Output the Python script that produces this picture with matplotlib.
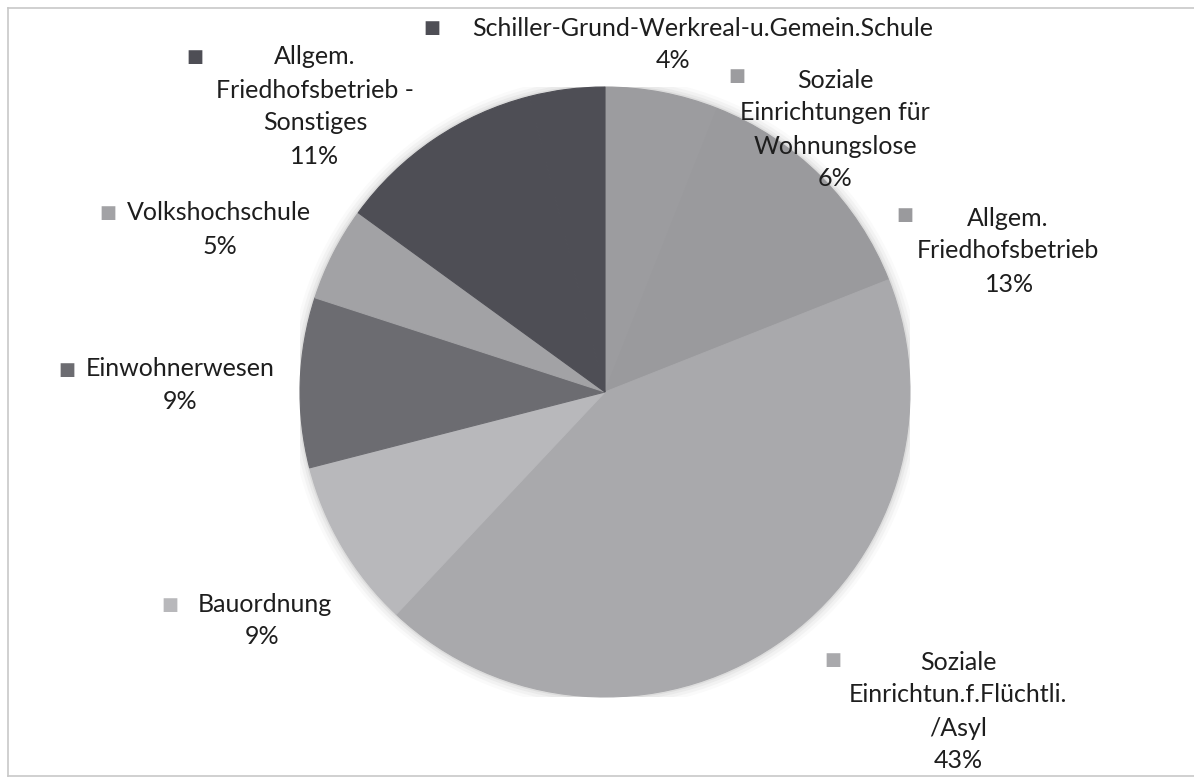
import matplotlib
matplotlib.use("Agg")
import matplotlib.pyplot as plt
from matplotlib.lines import Line2D
from matplotlib.patches import Circle

plt.rcParams['font.family'] = ['Lato', 'DejaVu Sans']

# Daten (Anteile in %), im Uhrzeigersinn ab 12 Uhr
labels = [
    "Soziale\nEinrichtungen für\nWohnungslose",
    "Allgem.\nFriedhofsbetrieb",
    "Soziale\nEinrichtun.f.Flüchtli.\n/Asyl",
    "Bauordnung",
    "Einwohnerwesen",
    "Volkshochschule",
    "Allgem.\nFriedhofsbetrieb -\nSonstiges",
    "Schiller-Grund-Werkreal-u.Gemein.Schule",
]
values = [6, 13, 43, 9, 9, 5, 11, 4]
colors = ["#9c9c9f", "#9a9a9d", "#a9a9ac", "#b8b8bb", "#6c6c71",
          "#a2a2a5", "#4e4e55", "#4e4e55"]

# Beschriftungen: Textmitte (Pixel), Mitte der Prozentzeile, Marker
label_pos = [(835, 80), (1008, 218), (958, 662), (265, 604),
             (180, 368), (219, 213), (315, 57), (703, 28)]
pct_x = [835, 1010, 958, 262, 180, 220, 315, 673]
marker_pos = [(737, 76), (905, 215), (833, 660), (170, 605),
              (67, 370), (108, 213), (195, 57), (432, 28)]

W, H = 1194, 778
fig = plt.figure(figsize=(W / 100, H / 100), dpi=100)
fig.patch.set_facecolor("white")

# Rahmen
frame = "#c8c8c8"
fig.add_artist(Line2D([8 / W, 1], [1 - 8 / H, 1 - 8 / H], color=frame, lw=1.2))
fig.add_artist(Line2D([8 / W, 8 / W], [2 / H, 1 - 8 / H], color=frame, lw=1.2))
fig.add_artist(Line2D([8 / W, 1], [2 / H, 2 / H], color=frame, lw=1.2))

cx, cy, r = 605, 392, 305
ax = fig.add_axes([(cx - r) / W, (H - cy - r) / H, 2 * r / W, 2 * r / H])

# weicher Schatten
for k, a in zip([1.035, 1.025, 1.015, 1.007], [0.04, 0.06, 0.08, 0.12]):
    ax.add_patch(Circle((0, 0), k, color="#808080", alpha=a, lw=0))

wedges, _ = ax.pie(values, colors=colors, startangle=90, counterclock=False,
                   radius=1.0)
for w, c in zip(wedges, colors):
    w.set_edgecolor(c)
    w.set_linewidth(0.8)
ax.set_xlim(-1, 1)
ax.set_ylim(-1, 1)
ax.set_aspect("equal")
ax.axis("off")

fs = 18
for lab, val, (lx, ly), px, (mx, my), col in zip(labels, values, label_pos,
                                                  pct_x, marker_pos, colors):
    lines = lab.split("\n")
    for i, line in enumerate(lines):
        fig.text(lx / W, 1 - (ly + i * 33) / H, line, fontsize=fs,
                 color="#1e1e1e", ha="center", va="center")
    fig.text(px / W, 1 - (ly + len(lines) * 33) / H, f"{val}%", fontsize=fs,
             color="#1e1e1e", ha="center", va="center")
    fig.text(mx / W, 1 - my / H, "\u25A0", fontsize=13, color=col,
             ha="center", va="center", family=["DejaVu Sans"])

fig.savefig("out.png", dpi=100, facecolor="white")
